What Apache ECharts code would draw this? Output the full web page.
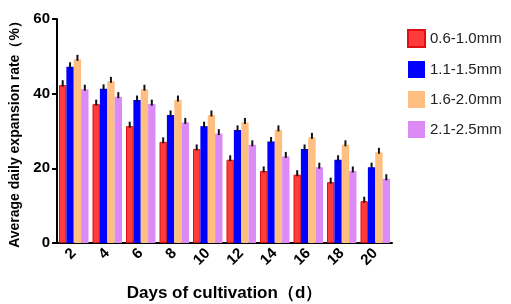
<!DOCTYPE html>
<html>
<head>
<meta charset="utf-8">
<script src="https://cdn.jsdelivr.net/npm/echarts@6/dist/echarts.min.js"></script>
<style>
  html, body { margin: 0; padding: 0; background: #fff; }
  #chart { width: 511px; height: 304px; }
</style>
</head>
<body>
<div id="chart"></div>
<script>
// days of cultivation
var days = ['2', '4', '6', '8', '10', '12', '14', '16', '18', '20'];
var sizeNames = ['0.6-1.0mm', '1.1-1.5mm', '1.6-2.0mm', '2.1-2.5mm'];
// average daily expansion rate (%)
var rate06 = [42.3, 37.2, 31.3, 27.1, 25.2, 22.3, 19.3, 18.3, 16.3, 11.2];
var rate11 = [47.2, 41.3, 38.3, 34.3, 31.3, 30.3, 27.2, 25.2, 22.3, 20.3];
var rate16 = [49.2, 43.3, 41.2, 38.3, 34.3, 32.3, 30.3, 28.3, 26.3, 24.3];
var rate21 = [41.2, 39.2, 37.2, 32.3, 29.3, 26.3, 23.2, 20.3, 19.3, 17.2];
// error (SD) approx
var err06 = [1.3, 1.2, 1.2, 1.2, 1.2, 1.2, 1.2, 1.2, 1.2, 1.2];
var err11 = [1.2, 1.2, 1.2, 1.2, 1.2, 1.2, 1.2, 1.2, 1.2, 1.2];
var err16 = [1.2, 1.2, 1.2, 1.2, 1.2, 1.2, 1.2, 1.2, 1.2, 1.2];
var err21 = [1.2, 1.2, 1.2, 1.2, 1.2, 1.2, 1.2, 1.2, 1.2, 1.2];

var colors = ['#ff3b3b', '#0000ff', '#ffbf80', '#dc8af5'];
var rates = [rate06, rate11, rate16, rate21];
var errs = [err06, err11, err16, err21];
var catGap = 0.12;

var errData = [];
rates.forEach(function (arr, s) {
  arr.forEach(function (v, i) {
    errData.push([i, s, v, errs[s][i]]);
  });
});

var series = sizeNames.map(function (name, s) {
  return {
    name: name,
    type: 'bar',
    data: rates[s],
    barGap: '0%',
    barCategoryGap: (catGap * 100) + '%',
    itemStyle: s === 0
      ? { color: colors[s], borderColor: '#e01010', borderWidth: 1 }
      : { color: colors[s] }
  };
});

series.push({
  type: 'custom',
  data: errData,
  encode: { x: 0, y: 2 },
  z: 10,
  silent: true,
  renderItem: function (params, api) {
    var cat = api.value(0);
    var s = api.value(1);
    var v = api.value(2);
    var e = api.value(3);
    var band = api.size([1, 0])[0];
    var bw = band * (1 - catGap) / 4;
    var off = (s - 1.5) * bw;
    var top = api.coord([cat, v + e]);
    var low = api.coord([cat, v - 0.4]);
    return {
      type: 'line',
      shape: { x1: top[0] + off, y1: top[1], x2: low[0] + off, y2: low[1] },
      style: { stroke: '#111', lineWidth: 2 }
    };
  }
});

var chart = echarts.init(document.getElementById('chart'));
chart.setOption({
  animation: false,
  textStyle: { fontFamily: 'Arial, "Liberation Sans", sans-serif' },
  grid: { left: 57, right: 119, top: 19, bottom: 61, containLabel: false, outerBoundsMode: 'none' },
  legend: {
    orient: 'vertical',
    left: 402,
    top: 24,
    icon: 'rect',
    itemWidth: 17,
    itemHeight: 17,
    itemGap: 13,
    data: sizeNames,
    textStyle: { fontSize: 15, color: '#222', fontFamily: 'Arial, "Liberation Sans", sans-serif' }
  },
  xAxis: {
    type: 'category',
    data: days,
    name: 'Days of cultivation（d）',
    nameLocation: 'middle',
    nameGap: 42,
    nameTextStyle: { fontSize: 17, fontWeight: 'bold', color: '#000' },
    axisLine: { lineStyle: { color: '#000', width: 2 } },
    axisTick: { alignWithLabel: true, length: 5, lineStyle: { color: '#000', width: 2 } },
    axisLabel: { rotate: 45, fontSize: 15, fontWeight: 'bold', color: '#000', margin: 8 }
  },
  yAxis: {
    type: 'value',
    min: 0,
    max: 60,
    interval: 20,
    name: 'Average daily expansion rate（%）',
    nameLocation: 'middle',
    nameRotate: 90,
    nameGap: 33,
    nameTextStyle: { fontSize: 14, fontWeight: 'bold', color: '#000' },
    axisLine: { show: true, lineStyle: { color: '#000', width: 2 } },
    axisTick: { show: true, length: 5, lineStyle: { color: '#000', width: 2 } },
    axisLabel: { fontSize: 15, fontWeight: 'bold', color: '#000', margin: 7 },
    splitLine: { show: false }
  },
  series: series
});
</script>
</body>
</html>
